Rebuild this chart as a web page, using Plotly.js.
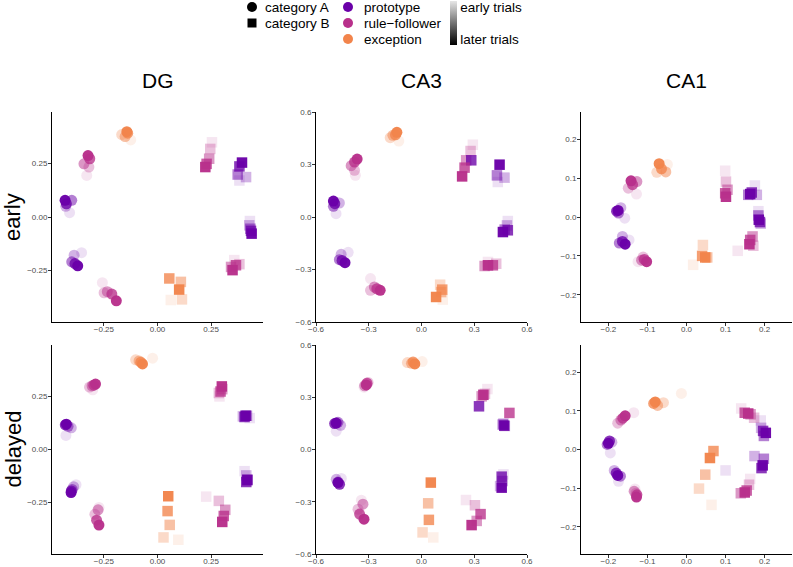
<!DOCTYPE html>
<html>
<head>
<meta charset="utf-8">
<script src="https://cdn.plot.ly/plotly-3.0.1.min.js"></script>
<style>html,body{margin:0;padding:0;background:#fff;}#chart{width:793px;height:567px;}</style>
</head>
<body>
<div id="chart"></div>
<script>
// ---- categories / items ----
const regions = ["DG", "CA3", "CA1"];
const phases = ["early", "delayed"];
const items = ["A-proto1","A-proto2","A-rule1","A-rule2","A-exc","B-proto1","B-proto2","B-rule1","B-rule2","B-exc"];
const itemCategory = ["category A","category A","category A","category A","category A","category B","category B","category B","category B","category B"];
const itemType = ["prototype","prototype","rule-follower","rule-follower","exception","prototype","prototype","rule-follower","rule-follower","exception"];
const trials = [1, 2, 3, 4, 5]; // early -> later trials

// ---- values: one row per item, one column per trial ----
const dgEarlyX = [
  [-0.410,-0.428,-0.400,-0.425,-0.431],[-0.354,-0.389,-0.400,-0.385,-0.372],
  [-0.330,-0.320,-0.343,-0.316,-0.324],[-0.257,-0.249,-0.234,-0.213,-0.192],
  [-0.125,-0.167,-0.151,-0.139,-0.143],[0.382,0.413,0.374,0.382,0.394],
  [0.431,0.428,0.433,0.436,0.439],[0.254,0.246,0.241,0.229,0.223],
  [0.358,0.382,0.343,0.366,0.350],[0.062,0.114,0.109,0.055,0.101]];
const dgEarlyY = [
  [0.020,0.050,0.078,0.062,0.078],[-0.167,-0.179,-0.210,-0.218,-0.229],
  [0.195,0.234,0.249,0.273,0.288],[-0.308,-0.355,-0.350,-0.361,-0.393],
  [0.361,0.386,0.377,0.393,0.400],[0.171,0.187,0.199,0.237,0.255],
  [-0.019,-0.039,-0.055,-0.065,-0.078],[0.350,0.319,0.273,0.249,0.234],
  [-0.202,-0.221,-0.234,-0.226,-0.249],[-0.389,-0.386,-0.304,-0.288,-0.340]];
const dgDelayedX = [
  [-0.427,-0.402,-0.417,-0.430,-0.425],[-0.380,-0.391,-0.398,-0.402,-0.403],
  [-0.302,-0.317,-0.305,-0.297,-0.289],[-0.273,-0.292,-0.277,-0.284,-0.273],
  [-0.023,-0.102,-0.086,-0.078,-0.070],[0.430,0.398,0.417,0.406,0.411],
  [0.406,0.414,0.419,0.414,0.419],[0.289,0.286,0.302,0.294,0.300],
  [0.227,0.286,0.316,0.309,0.302],[0.097,0.028,0.057,0.047,0.050]];
const dgDelayedY = [
  [0.066,0.102,0.109,0.116,0.119],[-0.166,-0.175,-0.188,-0.195,-0.203],
  [0.281,0.294,0.300,0.303,0.308],[-0.273,-0.305,-0.284,-0.333,-0.356],
  [0.430,0.422,0.417,0.411,0.403],[0.148,0.156,0.159,0.153,0.159],
  [-0.102,-0.122,-0.141,-0.153,-0.144],[0.250,0.266,0.284,0.273,0.297],
  [-0.222,-0.242,-0.284,-0.313,-0.341],[-0.425,-0.414,-0.355,-0.290,-0.220]];
const ca3EarlyX = [
  [-0.486,-0.467,-0.501,-0.493,-0.501],[-0.417,-0.457,-0.467,-0.452,-0.435],
  [-0.376,-0.381,-0.400,-0.381,-0.366],[-0.290,-0.290,-0.268,-0.254,-0.235],
  [-0.129,-0.178,-0.163,-0.148,-0.140],[0.434,0.472,0.429,0.283,0.444],
  [0.491,0.486,0.473,0.491,0.463],[0.292,0.279,0.254,0.245,0.231],
  [0.378,0.425,0.359,0.406,0.378],[0.121,0.106,0.112,0.118,0.083]];
const ca3EarlyY = [
  [0.019,0.080,0.061,0.076,0.091],[-0.202,-0.213,-0.244,-0.248,-0.261],
  [0.238,0.267,0.293,0.314,0.331],[-0.352,-0.419,-0.400,-0.410,-0.419],
  [0.434,0.453,0.467,0.470,0.484],[0.200,0.225,0.238,0.324,0.299],
  [-0.023,-0.048,-0.072,-0.076,-0.086],[0.413,0.377,0.324,0.282,0.232],
  [-0.257,-0.267,-0.280,-0.276,-0.276],[-0.472,-0.387,-0.429,-0.415,-0.457]];
const ca3DelayedX = [
  [-0.485,-0.460,-0.475,-0.494,-0.485],[-0.456,-0.485,-0.475,-0.466,-0.475],
  [-0.327,-0.304,-0.323,-0.310,-0.314],[-0.342,-0.361,-0.333,-0.352,-0.327],
  [0.004,-0.080,-0.057,-0.048,-0.038],[0.475,0.466,0.462,0.327,0.471],
  [0.466,0.447,0.460,0.456,0.456],[0.375,0.361,0.342,0.500,0.352],
  [0.253,0.304,0.314,0.336,0.285],[0.067,0.006,0.038,0.042,0.053]];
const ca3DelayedY = [
  [0.105,0.139,0.156,0.149,0.152],[-0.166,-0.171,-0.187,-0.200,-0.190],
  [0.358,0.385,0.366,0.381,0.371],[-0.291,-0.343,-0.314,-0.371,-0.400],
  [0.505,0.499,0.495,0.503,0.491],[0.133,0.149,0.143,0.248,0.137],
  [-0.143,-0.210,-0.181,-0.156,-0.219],[0.347,0.320,0.305,0.210,0.314],
  [-0.290,-0.320,-0.410,-0.371,-0.434],[-0.505,-0.476,-0.309,-0.404,-0.190]];
const ca1EarlyX = [
  [-0.158,-0.168,-0.174,-0.179,-0.175],[-0.147,-0.164,-0.172,-0.164,-0.157],
  [-0.128,-0.149,-0.127,-0.138,-0.142],[-0.124,-0.111,-0.115,-0.108,-0.102],
  [-0.049,-0.076,-0.053,-0.064,-0.070],[0.175,0.180,0.158,0.167,0.163],
  [0.184,0.190,0.184,0.188,0.185],[0.099,0.101,0.105,0.099,0.101],
  [0.131,0.171,0.169,0.163,0.161],[0.017,0.042,0.053,0.040,0.048]];
const ca1EarlyY = [
  [-0.003,0.024,0.010,0.015,0.017],[-0.059,-0.050,-0.067,-0.063,-0.070],
  [0.059,0.074,0.091,0.083,0.093],[-0.115,-0.103,-0.111,-0.109,-0.115],
  [0.135,0.115,0.116,0.124,0.137],[0.081,0.057,0.057,0.063,0.059],
  [0.015,-0.017,0.004,-0.013,-0.007],[0.119,0.091,0.070,0.061,0.052],
  [-0.087,-0.074,-0.050,-0.059,-0.070],[-0.123,-0.072,-0.104,-0.100,-0.104]];
const ca1DelayedX = [
  [-0.195,-0.191,-0.203,-0.197,-0.200],[-0.174,-0.185,-0.169,-0.180,-0.176],
  [-0.135,-0.176,-0.168,-0.163,-0.157],[-0.132,-0.129,-0.134,-0.127,-0.128],
  [-0.013,-0.059,-0.074,-0.084,-0.080],[0.190,0.191,0.198,0.196,0.203],
  [0.100,0.174,0.198,0.192,0.195],[0.140,0.173,0.164,0.149,0.158],
  [0.163,0.160,0.139,0.154,0.149],[0.064,0.032,0.048,0.069,0.060]];
const ca1DelayedY = [
  [-0.009,0.019,0.013,0.022,0.016],[-0.082,-0.054,-0.069,-0.061,-0.067],
  [0.095,0.068,0.076,0.081,0.087],[-0.102,-0.113,-0.108,-0.117,-0.123],
  [0.145,0.121,0.114,0.119,0.123],[0.075,0.056,0.035,0.048,0.043],
  [-0.054,-0.017,-0.024,-0.048,-0.041],[0.106,0.082,0.091,0.095,0.093],
  [-0.076,-0.091,-0.113,-0.106,-0.111],[-0.143,-0.101,-0.065,-0.004,-0.022]];

// ---- tick labels ----
const dgTicks = [-0.25, 0, 0.25];
const dgTickText = ["\u22120.25", "0.00", "0.25"];
const ca3Ticks = [-0.6, -0.3, 0, 0.3, 0.6];
const ca3TickText = ["\u22120.6", "\u22120.3", "0.0", "0.3", "0.6"];
const ca1Ticks = [-0.2, -0.1, 0, 0.1, 0.2];
const ca1TickText = ["\u22120.2", "\u22120.1", "0.0", "0.1", "0.2"];
const legendShapes = ["category A", "category B"];
const legendTypes = ["prototype", "rule\u2212follower", "exception"];
const trialLabels = ["early trials", "later trials"];

// ---- styles ----
const FONT = "Liberation Sans, Arial, Helvetica, sans-serif";
const typeColor = {"prototype": "#6a00a8", "rule-follower": "#b8308b", "exception": "#f2844b"};
const catSymbol = {"category A": "circle", "category B": "square"};
const catSize = {"category A": 11, "category B": 10.5};
const trialOpacity = [0.12, 0.3, 0.5, 0.78, 0.97];

const W = 793, H = 567;
const colPx = [[52, 263], [316, 527], [581, 792]];
const rowPx = [[112, 322], [345, 554]];
const ranges = [[-0.492, 0.492], [-0.6, 0.6], [-0.27, 0.27]];
const ticks = [[dgTicks, dgTickText], [ca3Ticks, ca3TickText], [ca1Ticks, ca1TickText]];

const panelData = [
  [[dgEarlyX, dgEarlyY], [ca3EarlyX, ca3EarlyY], [ca1EarlyX, ca1EarlyY]],
  [[dgDelayedX, dgDelayedY], [ca3DelayedX, ca3DelayedY], [ca1DelayedX, ca1DelayedY]]
];

const traces = [];
const layout = {
  width: W, height: H,
  margin: {l: 0, r: 0, t: 0, b: 0},
  paper_bgcolor: "#fff", plot_bgcolor: "#fff",
  showlegend: false,
  font: {family: FONT, color: "#000"},
  annotations: [], shapes: []
};

let k = 0;
for (let r = 0; r < 2; r++) {
  for (let c = 0; c < 3; c++) {
    k++;
    const suf = k === 1 ? "" : String(k);
    const [X, Y] = panelData[r][c];
    const xs = [], ys = [], col = [], sym = [], op = [], sz = [], txt = [];
    trials.forEach((t, ti) => {
      items.forEach((it, ii) => {
        xs.push(X[ii][ti]); ys.push(Y[ii][ti]);
        col.push(typeColor[itemType[ii]]);
        sym.push(catSymbol[itemCategory[ii]]);
        sz.push(catSize[itemCategory[ii]]);
        op.push(trialOpacity[ti]);
        txt.push(it + " trial " + t);
      });
    });
    traces.push({
      type: "scatter", mode: "markers", x: xs, y: ys, text: txt,
      xaxis: "x" + suf, yaxis: "y" + suf, hoverinfo: "text",
      marker: {color: col, symbol: sym, size: sz, opacity: op, line: {width: 0}}
    });
    const axBase = {
      showgrid: false, zeroline: false, showline: true, linecolor: "#000", linewidth: 1,
      ticks: "outside", ticklen: 3, tickwidth: 1, tickcolor: "#333",
      tickfont: {size: 8, color: "#4d4d4d", family: FONT},
      tickmode: "array", tickvals: ticks[c][0], ticktext: ticks[c][1],
      range: ranges[c], fixedrange: true
    };
    layout["xaxis" + suf] = Object.assign({}, axBase, {
      domain: [colPx[c][0] / W, colPx[c][1] / W], anchor: "y" + suf,
      ticklabelstandoff: -4
    });
    layout["yaxis" + suf] = Object.assign({}, axBase, {
      domain: [1 - rowPx[r][1] / H, 1 - rowPx[r][0] / H], anchor: "x" + suf,
      ticklabelstandoff: -1
    });
  }
}

// column titles
regions.forEach((name, c) => {
  layout.annotations.push({
    xref: "paper", yref: "paper", x: (colPx[c][0] + colPx[c][1]) / 2 / W, y: 1 - 81 / H,
    xanchor: "center", yanchor: "middle", showarrow: false, text: name,
    font: {size: 21, family: FONT, color: "#000"}
  });
});
// row titles
phases.forEach((name, r) => {
  layout.annotations.push({
    xref: "paper", yref: "paper", x: 13 / W, y: 1 - ((rowPx[r][0] + rowPx[r][1]) / 2) / H,
    xanchor: "center", yanchor: "middle", showarrow: false, text: name, textangle: -90,
    font: {size: 22, family: FONT, color: "#000"}
  });
});

// legend: shapes (category)
const legFont = {size: 13.5, family: FONT, color: "#000"};
function px2x(p) { return p / W; }
function px2y(p) { return 1 - p / H; }
legendShapes.forEach((lab, i) => {
  const cy = 7 + i * 16, cx = 252;
  if (catSymbol[lab] === "circle") {
    layout.shapes.push({type: "circle", xref: "paper", yref: "paper",
      x0: px2x(cx - 5), x1: px2x(cx + 5), y0: px2y(cy + 5), y1: px2y(cy - 5),
      fillcolor: "#000", line: {width: 0}});
  } else {
    layout.shapes.push({type: "rect", xref: "paper", yref: "paper",
      x0: px2x(cx - 4.5), x1: px2x(cx + 4.5), y0: px2y(cy + 4.5), y1: px2y(cy - 4.5),
      fillcolor: "#000", line: {width: 0}});
  }
  layout.annotations.push({xref: "paper", yref: "paper", x: px2x(263), y: px2y(cy),
    xanchor: "left", yanchor: "middle", showarrow: false, text: lab, font: legFont});
});
// legend: item types
const typeKeys = ["prototype", "rule-follower", "exception"];
legendTypes.forEach((lab, i) => {
  const cy = 7 + i * 16, cx = 348;
  layout.shapes.push({type: "circle", xref: "paper", yref: "paper",
    x0: px2x(cx - 5), x1: px2x(cx + 5), y0: px2y(cy + 5), y1: px2y(cy - 5),
    fillcolor: typeColor[typeKeys[i]], line: {width: 0}});
  layout.annotations.push({xref: "paper", yref: "paper", x: px2x(362), y: px2y(cy),
    xanchor: "left", yanchor: "middle", showarrow: false, text: lab, font: legFont});
});

// legend: trial gradient via a colorbar
traces.push({
  type: "scatter", mode: "markers", x: [null, null], y: [null, null], hoverinfo: "skip",
  xaxis: "x", yaxis: "y",
  marker: {
    color: [0, 1], cmin: 0, cmax: 1, size: 0,
    colorscale: [[0, "#000000"], [1, "#e6e6e6"]],
    showscale: true,
    colorbar: {
      x: 450 / W, xanchor: "left", xpad: 0, y: 1 - 1 / H, yanchor: "top", ypad: 0,
      len: 44, lenmode: "pixels", thickness: 7, thicknessmode: "pixels",
      outlinewidth: 0, ticks: "", ticklen: 0, ticklabeloverflow: "allow",
      tickmode: "array", tickvals: [0.86, 0.12], ticktext: trialLabels,
      tickfont: legFont
    }
  }
});

Plotly.newPlot("chart", traces, layout, {staticPlot: true, displayModeBar: false});
</script>
</body>
</html>
